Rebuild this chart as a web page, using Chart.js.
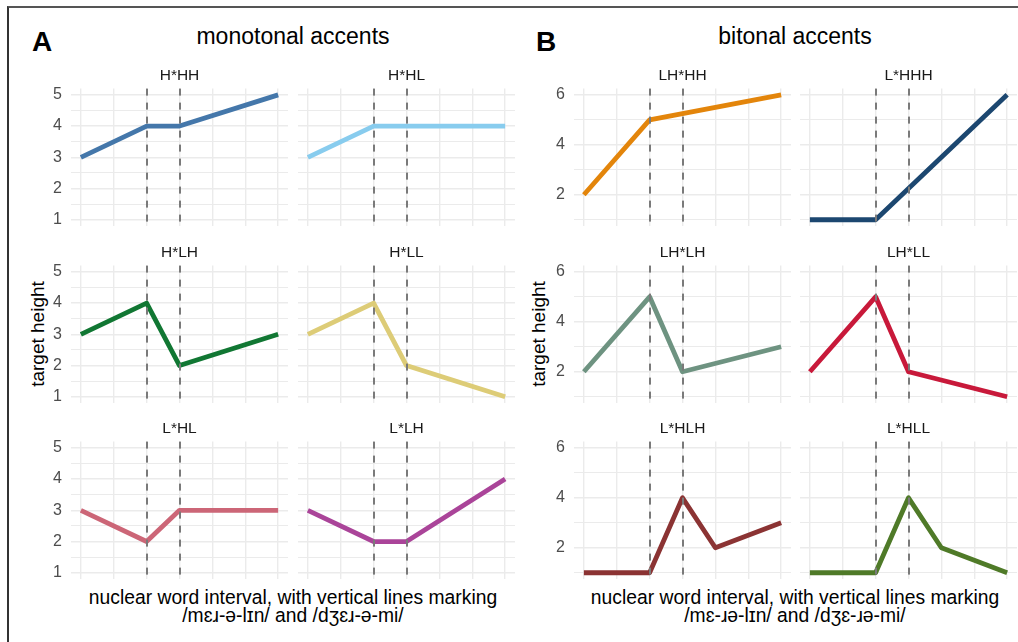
<!DOCTYPE html>
<html>
<head>
<meta charset="utf-8">
<script src="https://cdn.jsdelivr.net/npm/chart.js@4/dist/chart.umd.min.js"></script>
<style>
  html, body { margin: 0; padding: 0; background: #fff; }
  body { width: 1018px; height: 642px; overflow: hidden; position: relative;
         font-family: "Liberation Sans", Arial, "DejaVu Sans", sans-serif; }
  .frame { position: absolute; left: 7px; top: 6px; width: 1100px; height: 700px;
           border-top: 2px solid #555; border-left: 2px solid #333; }
  canvas { position: absolute; }
  .txt { position: absolute; white-space: nowrap; color: #000; }
  .panel { font-size: 28px; font-weight: bold; line-height: 1; }
  .ptitle { font-size: 23px; line-height: 1; text-align: center; width: 400px; }
  .ytitle { font-size: 19px; line-height: 22px; height: 22px; width: 300px; text-align: center;
            transform: rotate(-90deg); transform-origin: 50% 50%; }
  .xtitle { font-size: 19.3px; line-height: 18px; text-align: center; width: 560px; }
</style>
</head>
<body>
<div class="frame"></div>

<div class="txt panel" style="left:32px; top:28px;">A</div>
<div class="txt ptitle" style="left:93px; top:25px;">monotonal accents</div>
<div class="txt panel" style="left:536px; top:28px;">B</div>
<div class="txt ptitle" style="left:595px; top:25px;">bitonal accents</div>

<div class="txt ytitle" style="left:-112px; top:323px;">target height</div>
<div class="txt ytitle" style="left:389px; top:323px;">target height</div>

<div class="txt xtitle" style="left:13px; top:589px;">nuclear word interval, with vertical lines marking<br>/mɛɹ-ə-lɪn/ and /dʒɛɹ-ə-mi/</div>
<div class="txt xtitle" style="left:515px; top:589px;">nuclear word interval, with vertical lines marking<br>/mɛ-ɹə-lɪn/ and /dʒɛ-ɹə-mi/</div>

<script>
// ---------- data ----------
const monoAccents = ['H*HH', 'H*HL', 'H*LH', 'H*LL', 'L*HL', 'L*LH'];
const monoTimes = [0, 2, 3, 6];
const H_HH = [3, 4, 4, 5];
const H_HL = [3, 4, 4, 4];
const H_LH = [3, 4, 2, 3];
const H_LL = [3, 4, 2, 1];
const L_HL = [3, 2, 3, 3];
const L_LH = [3, 2, 2, 4];

const biAccents = ['LH*HH', 'L*HHH', 'LH*LH', 'LH*LL', 'L*HLH', 'L*HLL'];
const timesLH_HH = [0, 2, 6];
const LH_HH = [2, 5, 6];
const timesL_HHH = [0, 2, 6];
const L_HHH = [1, 1, 6];
const timesLH_LH = [0, 2, 3, 6];
const LH_LH = [2, 5, 2, 3];
const timesLH_LL = [0, 2, 3, 6];
const LH_LL = [2, 5, 2, 1];
const timesL_HLH = [0, 2, 3, 4, 6];
const L_HLH = [1, 1, 4, 2, 3];
const timesL_HLL = [0, 2, 3, 4, 6];
const L_HLL = [1, 1, 4, 2, 1];

const xTicks = [0, 1, 2, 3, 4, 5, 6];
const syllableMarkers = [2, 3];
const yTicksMono = [1, 2, 3, 4, 5];
const yMinorMono = [1.5, 2.5, 3.5, 4.5];
const yTicksBi = [2, 4, 6];
const yMinorBi = [1, 3, 5];

const monoColors = ['#4477AA', '#88CCEE', '#117733', '#DDCC77', '#CC6677', '#AA4499'];
const biColors = ['#E3850B', '#1C4770', '#6E9381', '#C8193A', '#8B3333', '#4F7A28'];

// ---------- drawing ----------
Chart.defaults.font.family = '"Liberation Sans", Arial, sans-serif';

const markerPlugin = {
  id: 'markers',
  afterDatasetsDraw(chart) {
    const { ctx, chartArea, scales } = chart;
    ctx.save();
    ctx.strokeStyle = '#7A7A7A';
    ctx.lineWidth = 2;
    ctx.setLineDash([7, 7]);
    syllableMarkers.forEach(v => {
      const px = Math.round(scales.x.getPixelForValue(v));
      ctx.beginPath();
      ctx.moveTo(px, chartArea.top);
      ctx.lineTo(px, chartArea.bottom);
      ctx.stroke();
    });
    ctx.restore();
  }
};

const PLOT_W = 217, PLOT_H = 137, STRIP_H = 23, AXIS_W = 40;
const rowTops = [89, 266, 442];

function facet(name, times, values, color, left, top, showY, yMajor, yMinor, yMin, yMax) {
  const cv = document.createElement('canvas');
  const w = PLOT_W + (showY ? AXIS_W : 0);
  const h = PLOT_H + STRIP_H;
  cv.width = w; cv.height = h;
  cv.style.left = (left - (showY ? AXIS_W : 0)) + 'px';
  cv.style.top = (top - STRIP_H) + 'px';
  cv.style.width = w + 'px'; cv.style.height = h + 'px';
  document.body.appendChild(cv);
  const allY = yMajor.concat(yMinor).sort((a, b) => a - b);
  new Chart(cv, {
    type: 'line',
    data: {
      datasets: [{
        data: times.map((t, i) => ({ x: t, y: values[i] })),
        borderColor: color,
        borderWidth: 4.8,
        pointRadius: 0,
        tension: 0,
        borderCapStyle: 'butt',
        borderJoinStyle: 'round',
        clip: false
      }]
    },
    options: {
      responsive: false,
      animation: false,
      devicePixelRatio: 1,
      layout: { padding: 0, autoPadding: false },
      plugins: {
        legend: { display: false },
        tooltip: { enabled: false },
        title: {
          display: true, text: name, fullSize: false, color: '#1A1A1A',
          font: { size: 15.5, weight: 'normal' }, padding: { top: 0, bottom: 4 }
        }
      },
      scales: {
        x: {
          type: 'linear', min: -0.3, max: 6.3,
          afterBuildTicks: s => { s.ticks = xTicks.map(v => ({ value: v })); },
          afterFit: s => { s.height = 0; s.paddingLeft = 0; s.paddingRight = 0; },
          ticks: { display: false },
          grid: { color: '#EBEBEB', lineWidth: 1.4, drawTicks: false },
          border: { display: false }
        },
        y: {
          type: 'linear', min: yMin, max: yMax,
          afterBuildTicks: s => { s.ticks = allY.map(v => ({ value: v })); },
          afterFit: s => { s.width = showY ? AXIS_W : 0; s.paddingTop = 0; s.paddingBottom = 0; },
          ticks: {
            display: showY, padding: 9, color: '#4D4D4D', autoSkip: false,
            font: { size: 16 },
            callback: v => yMajor.includes(v) ? String(v) : ''
          },
          grid: {
            color: '#EBEBEB', drawTicks: false,
            lineWidth: c => (c.tick && yMajor.includes(c.tick.value)) ? 1.4 : 1.1
          },
          border: { display: false }
        }
      }
    },
    plugins: [markerPlugin]
  });
}

const monoSeries = [H_HH, H_HL, H_LH, H_LL, L_HL, L_LH];
const monoCols = [71, 298];
monoAccents.forEach((name, i) => {
  const col = i % 2, row = Math.floor(i / 2);
  facet(name, monoTimes, monoSeries[i], monoColors[i], monoCols[col], rowTops[row],
        col === 0, yTicksMono, yMinorMono, 0.8, 5.2);
});

const biSeries = [LH_HH, L_HHH, LH_LH, LH_LL, L_HLH, L_HLL];
const biTimes = [timesLH_HH, timesL_HHH, timesLH_LH, timesLH_LL, timesL_HLH, timesL_HLL];
const biCols = [574, 800];
biAccents.forEach((name, i) => {
  const col = i % 2, row = Math.floor(i / 2);
  facet(name, biTimes[i], biSeries[i], biColors[i], biCols[col], rowTops[row],
        col === 0, yTicksBi, yMinorBi, 0.75, 6.25);
});
</script>
</body>
</html>
